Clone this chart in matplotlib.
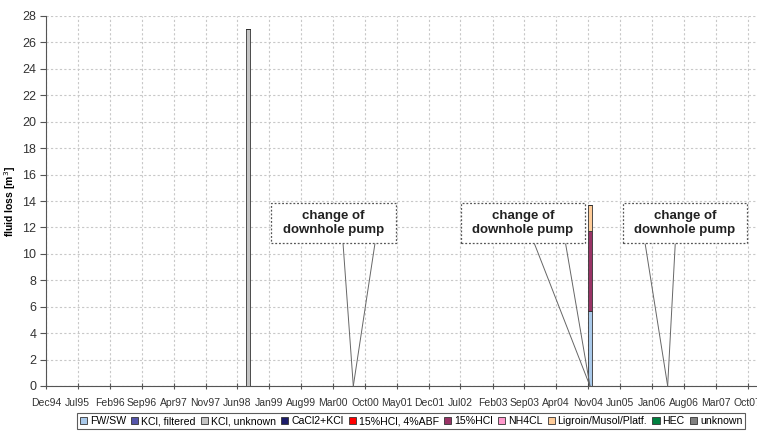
import matplotlib
import matplotlib.pyplot as plt
import matplotlib.dates as mdates
import numpy as np
import pandas as pd
from matplotlib.patches import Rectangle

matplotlib.use("Agg")

plt.rcParams["font.family"] = ["Liberation Sans", "DejaVu Sans"]

# data
bar_dates = pd.to_datetime(["1998-08-12", "2004-11-12"])
series_names = [
    "FW/SW", "KCl, filtered", "KCl, unknown", "CaCl2+KCl", "15%HCl, 4%ABF",
    "15%HCl", "NH4CL", "Ligroin/Musol/Platf.", "HEC", "unknown",
]
series_colors = [
    "#a9c9ea", "#5555aa", "#c4c4c4", "#1c1c6a", "#ff0000",
    "#993366", "#ff99cc", "#ffcc99", "#008040", "#808080",
]
fw_sw = [0.0, 5.7]
kcl_filtered = [0.0, 0.0]
kcl_unknown = [27.0, 0.0]
cacl2_kcl = [0.0, 0.0]
hcl_abf = [0.0, 0.0]
hcl15 = [0.0, 6.0]
nh4cl = [0.0, 0.0]
ligroin = [0.0, 2.0]
hec = [0.0, 0.0]
unknown = [0.0, 0.0]
series_values = [fw_sw, kcl_filtered, kcl_unknown, cacl2_kcl, hcl_abf,
                 hcl15, nh4cl, ligroin, hec, unknown]

event_dates = pd.to_datetime(["2000-07-15", "2004-11-12", "2006-04-15"])
event_label = "change of\ndownhole pump"

tick_dates = pd.date_range("1994-12-01", periods=23, freq="7MS")

fig = plt.figure(figsize=(7.57, 4.34), dpi=100)
ax = fig.add_axes([46 / 757, 48 / 434, 720 / 757, 370 / 434])

bottom = np.zeros(len(bar_dates))
for name, color, vals in zip(series_names, series_colors, series_values):
    vals = np.array(vals)
    ax.bar(bar_dates, vals, bottom=bottom, width=26, color=color,
           edgecolor="#333333", linewidth=0.6, label=name, zorder=3)
    bottom += vals

ax.set_xlim(pd.Timestamp("1994-12-01"), pd.Timestamp("2008-02-01"))
ax.set_ylim(0, 28)
ax.set_yticks(range(0, 29, 2))
ax.set_xticks(tick_dates)
ax.xaxis.set_major_formatter(mdates.DateFormatter("%b%y"))

ax.grid(True, color="#c8c8c8", linestyle=(0, (2, 2)), linewidth=0.8, zorder=0)
ax.set_axisbelow(True)
for s in ("top", "right"):
    ax.spines[s].set_visible(False)
for s in ("left", "bottom"):
    ax.spines[s].set_color("#555555")
    ax.spines[s].set_linewidth(0.8)
ax.tick_params(axis="x", direction="inout", length=5, labelsize=7.5,
               colors="#555555", labelcolor="#333333", pad=6)
ax.tick_params(axis="y", direction="out", length=4, labelsize=9,
               colors="#555555", labelcolor="#333333", pad=3)
ax.set_ylabel("fluid loss [m$^3$]", fontsize=7.5, fontweight="bold")
ax.yaxis.set_label_coords(-0.039, 0.5)

# callouts
box_centers = [0.399, 0.6625, 0.8875]
wedge_bases = [(0.4125, 0.457), (0.678, 0.7215), (0.832, 0.874)]
box_w, box_bot, box_top = 0.173, 0.3865, 0.4946
trans = ax.get_xaxis_transform()
for d, cx, (b1, b2) in zip(event_dates, box_centers, wedge_bases):
    xd = mdates.date2num(d)
    for b in (b1, b2):
        ax.annotate("", xy=(xd, 0), xycoords=trans, xytext=(b, box_bot),
                    textcoords="axes fraction",
                    arrowprops=dict(arrowstyle="-", color="#666666", lw=0.7,
                                    shrinkA=0, shrinkB=0), zorder=4)
    ax.add_patch(Rectangle((cx - box_w / 2, box_bot), box_w, box_top - box_bot,
                           transform=ax.transAxes, facecolor="white",
                           edgecolor="#555555", linestyle=(0, (1.5, 1.5)),
                           linewidth=0.9, zorder=5))
    ax.text(cx, (box_bot + box_top) / 2, event_label, transform=ax.transAxes,
            ha="center", va="center", fontsize=9.5, fontweight="bold",
            color="#222222", linespacing=1.25, zorder=6)

leg = fig.legend(loc="center", bbox_to_anchor=(411 / 757, 13 / 434), ncol=10,
                 fontsize=7.6, frameon=True, fancybox=False, edgecolor="#333333",
                 handlelength=0.7, handleheight=0.7, handletextpad=0.25,
                 columnspacing=0.5, borderpad=0.3, borderaxespad=0)
leg.get_frame().set_linewidth(0.8)

fig.savefig("out.png", dpi=100)
